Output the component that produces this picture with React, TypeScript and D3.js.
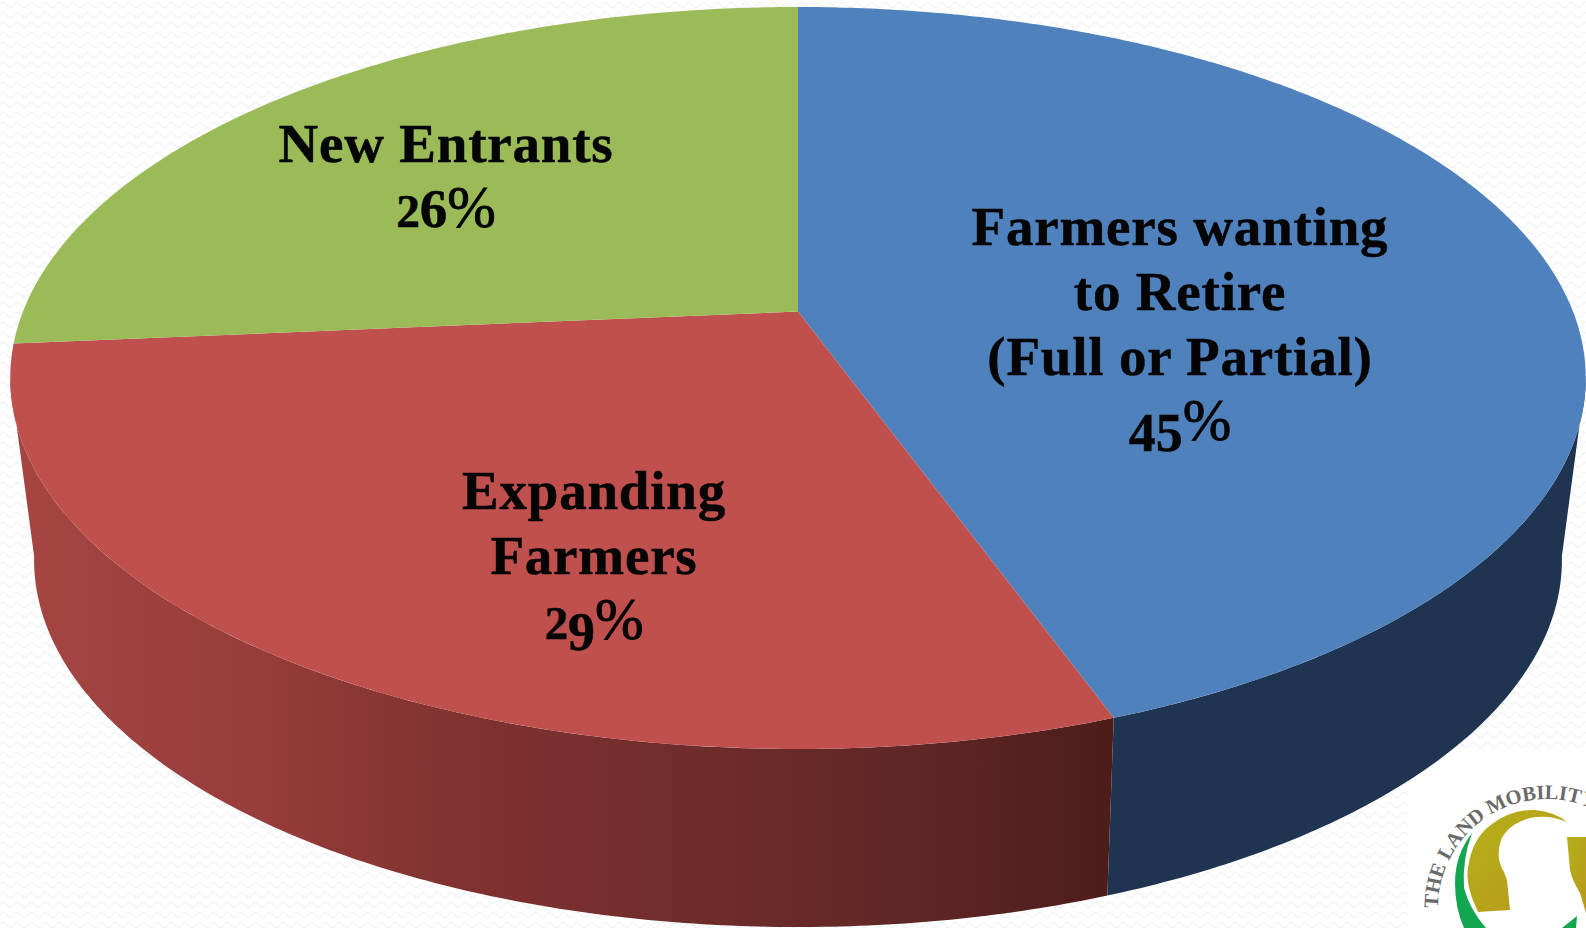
import * as d3 from 'd3';

// ─── Data ───────────────────────────────────────────────────

const CATEGORIES = ['Farmers wanting to Retire (Full or Partial)', 'Expanding Farmers', 'New Entrants'];
const SHARES = [44.5, 29.1, 26.4];
const LABEL_LINES = [
  ['Farmers wanting', 'to Retire', '(Full or Partial)'],
  ['Expanding', 'Farmers'],
  ['New Entrants'],
];
const TOP_COLORS = ['#4f81bd', '#c0504d', '#9bbb59'];
const LABEL_ANCHORS = [
  { x: 1180, y: 245 },
  { x: 594, y: 509 },
  { x: 446, y: 162 },
];
const WALL_STOPS = [
  { x: 30, color: '#a44542' },
  { x: 250, color: '#983d3b' },
  { x: 460, color: '#803230' },
  { x: 700, color: '#6f2c2b' },
  { x: 900, color: '#602726' },
  { x: 1110, color: '#4d1d1a' },
];

// ─── Constants ──────────────────────────────────────────────

const WIDTH = 1586;
const HEIGHT = 928;
const CX = 798;
const LINE_H = 65;
const FONT = '"Liberation Serif", serif';
const FS = 55;

// perspective planes of the disc: screen = (a*v + b) / (1 + c*v)
const TOP_PLANE = { dx: 775, a: 303.25, b: 311.5, c: -0.1792 };
const LOW_PLANE = { dx: 750, a: 260.6, b: 490.3, c: -0.19 };
// where the rim turns away from the viewer
const SILHOUETTE = 0.18;

// old-style figures: relative size and drop per digit
const DIGIT_STYLE: Record<string, { size: number; dy: number }> = {
  '2': { size: 0.86, dy: 0 },
  '6': { size: 1, dy: 0 },
  '9': { size: 0.98, dy: 0.2 },
  '4': { size: 0.98, dy: 0.2 },
  '5': { size: 0.98, dy: 0.2 },
};

// ─── Helpers ────────────────────────────────────────────────

type Plane = typeof TOP_PLANE;

function project(angle: number, p: Plane): [number, number] {
  const u = Math.sin(angle);
  const v = -Math.cos(angle);
  const w = 1 + p.c * v;
  return [CX + (p.dx * u) / w, (p.a * v + p.b) / w];
}

function rim(a0: number, a1: number, p: Plane): [number, number][] {
  const n = Math.max(2, Math.ceil(Math.abs(a1 - a0) / 0.01));
  const t = d3.scaleLinear().domain([0, n]).range([a0, a1]);
  return d3.range(n + 1).map((i) => project(t(i), p));
}

const lineGen = d3.line();

function PercentLabel({ x, y, value }: { x: number; y: number; value: number }) {
  const text = d3.format('.0f')(value);
  let prev = 0;
  return (
    <text
      x={x}
      y={y}
      textAnchor="middle"
      fontFamily={FONT}
      fontWeight="700"
      fontSize={FS}
      fill="#050505"
      stroke="#050505"
      strokeWidth={0.5}
    >
      {text.split('').map((ch, i) => {
        const st = DIGIT_STYLE[ch] ?? { size: 1, dy: 0 };
        const drop = st.dy * FS;
        const el = (
          <tspan key={i} fontSize={FS * st.size} dy={drop - prev}>
            {ch}
          </tspan>
        );
        prev = drop;
        return el;
      })}
      <tspan dy={-prev} fontWeight="400" fontSize={FS * 1.06} strokeWidth={0.9}>%</tspan>
    </text>
  );
}

// ─── Component ──────────────────────────────────────────────

export default function App() {
  const arcs = d3.pie<number>().sort(null)(SHARES);
  const turn = Math.atan2(Math.sqrt(1 - SILHOUETTE ** 2), SILHOUETTE);
  const silL = Math.PI + turn;
  const silR = Math.PI - turn;
  const apex: [number, number] = [CX, TOP_PLANE.b];

  const blueRed = arcs[0].endAngle;
  const wallRed = [...rim(blueRed, silL, TOP_PLANE), ...rim(silL, blueRed, LOW_PLANE)];
  const wallBlue = [...rim(silR, blueRed, TOP_PLANE), ...rim(blueRed, silR, LOW_PLANE)];

  return (
    <svg
      width={WIDTH}
      height={HEIGHT}
      viewBox={`0 0 ${WIDTH} ${HEIGHT}`}
      style={{ position: 'absolute', left: 0, top: 0, display: 'block' }}
    >
      <defs>
        <pattern id="wave" width={14} height={10} patternUnits="userSpaceOnUse">
          <path d="M0 5 Q3.5 0 7 5 T14 5" fill="none" stroke="#f2f3f5" strokeWidth={1.4} />
        </pattern>
        <linearGradient id="wallRed" gradientUnits="userSpaceOnUse" x1={0} x2={WIDTH} y1={0} y2={0}>
          {WALL_STOPS.map((s) => (
            <stop key={s.x} offset={s.x / WIDTH} stopColor={s.color} />
          ))}
        </linearGradient>
        <linearGradient id="gold" x1="0" x2="1" y1="0" y2="1">
          <stop offset="0" stopColor="#b5b018" />
          <stop offset="1" stopColor="#b8981e" />
        </linearGradient>
      </defs>

      <rect width={WIDTH} height={HEIGHT} fill="#fff" />
      <rect width={WIDTH} height={HEIGHT} fill="url(#wave)" />
      {/* Logo backing sits under the pie */}
      <rect x={1407} y={748} width={179} height={180} fill="#fff" />

      {/* Side walls */}
      <path d={lineGen(wallBlue) + 'Z'} fill="#1f3450" />
      <path d={lineGen(wallRed) + 'Z'} fill="url(#wallRed)" />

      {/* Top face */}
      {arcs.map((a, i) => (
        <path
          key={CATEGORIES[i]}
          d={lineGen([apex, ...rim(a.startAngle, a.endAngle, TOP_PLANE)]) + 'Z'}
          fill={TOP_COLORS[i]}
        />
      ))}

      {/* Labels */}
      {arcs.map((a, i) => {
        const { x, y } = LABEL_ANCHORS[i];
        const lines = LABEL_LINES[i];
        return (
          <g key={CATEGORIES[i]}>
            {lines.map((l, j) => (
              <text
                key={l}
                x={x}
                y={y + j * LINE_H}
                textAnchor="middle"
                fontFamily={FONT}
                fontWeight="700"
                fontSize={FS}
                letterSpacing={0.8}
                fill="#050505"
                stroke="#050505"
                strokeWidth={0.5}
              >
                {l}
              </text>
            ))}
            <PercentLabel x={x} y={y + lines.length * LINE_H} value={a.data} />
          </g>
        );
      })}

      {/* Logo in the corner */}
      <path id="logoArc" d="M1438 908 A109 109 0 0 1 1656 908" fill="none" />
      <text fontFamily={FONT} fontWeight="700" fontSize={20.5} fill="#6a6a6a">
        <textPath href="#logoArc">THE LAND MOBILITY</textPath>
      </text>
      <path
        d="M1478 912 Q1465 885 1468 868 Q1472 838 1492 824 Q1512 809 1535 810 Q1555 812 1567 822 Q1548 814 1530 818 Q1508 824 1501 840 Q1495 858 1504 872 L1507 880 L1510 910 Z"
        fill="url(#gold)"
      />
      <path d="M1567 837 L1586 837 L1586 913 L1580 893 Q1572 880 1570 870 Z" fill="url(#gold)" />
      <path
        d="M1472 833 Q1455 855 1455 883 Q1455 908 1464 928 L1486 928 Q1470 910 1464 888 Q1462 860 1472 833 Z"
        fill="#12a650"
      />
      <path d="M1577 916 L1576 928 L1562 928 Z" fill="#12a650" />
    </svg>
  );
}
